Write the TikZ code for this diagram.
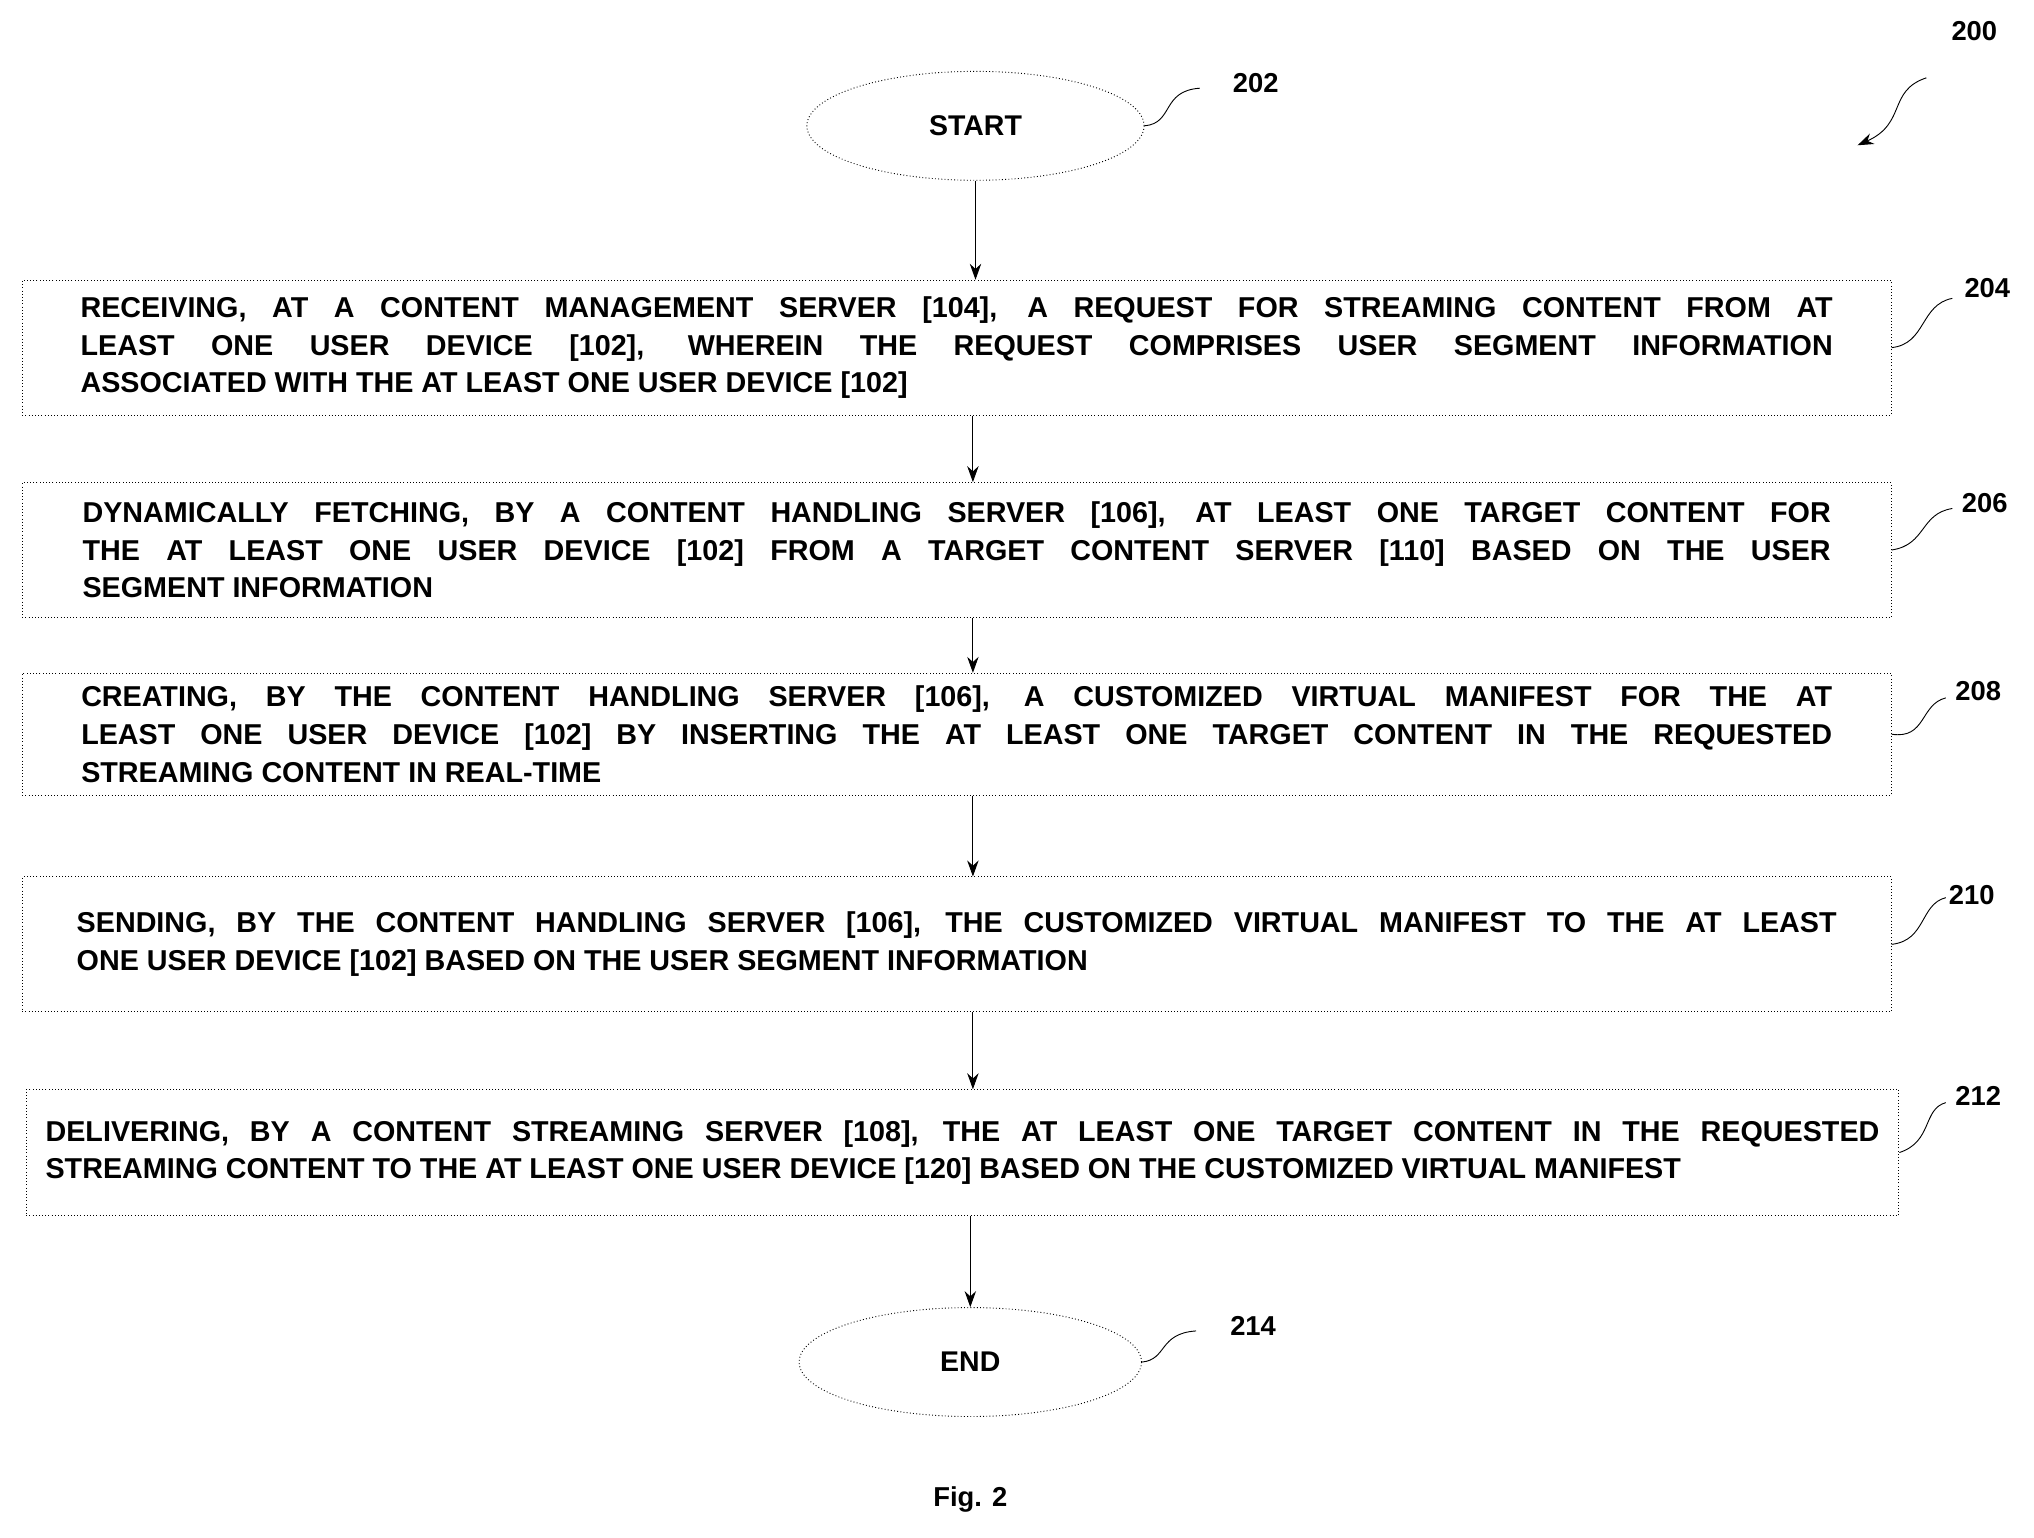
\documentclass[tikz,border=0pt]{standalone}
\usepackage{fontspec}
\setmainfont{Liberation Sans}
\usetikzlibrary{shapes.geometric,arrows.meta}
\tikzset{
  term/.style={draw,densely dotted,ellipse,minimum width=5.2cm,minimum height=1.68cm,font=\bfseries\fontsize{12.5}{14}\selectfont},
  step/.style={draw,densely dotted,rectangle,minimum height=#1,inner sep=0pt,align=justify,font=\bfseries\fontsize{12.6}{16.5}\selectfont},
  flow/.style={-{Stealth[length=7pt,width=5pt]}},
  tag/.style={font=\fontsize{12}{14}\selectfont\bfseries},
}
\begin{document}
\begin{tikzpicture}[x=0.02cm,y=-0.02cm]
  \useasboundingbox (0,0) rectangle (1568,1185);

  \node[term] (start) at (752,97) {START};
  \node[step=2.08cm,text width=27.02cm,minimum width=28.82cm] (s204) at (737.5,268) {RECEIVING, AT A CONTENT MANAGEMENT SERVER [104], A REQUEST FOR STREAMING CONTENT FROM AT\linebreak LEAST ONE USER DEVICE [102], WHEREIN THE REQUEST COMPRISES USER SEGMENT INFORMATION\linebreak ASSOCIATED WITH THE AT LEAST ONE USER DEVICE [102]};
  \node[step=2.08cm,text width=26.96cm,minimum width=28.82cm] (s206) at (737.5,424) {DYNAMICALLY FETCHING, BY A CONTENT HANDLING SERVER [106], AT LEAST ONE TARGET CONTENT FOR\linebreak THE AT LEAST ONE USER DEVICE [102] FROM A TARGET CONTENT SERVER [110] BASED ON THE USER\linebreak SEGMENT INFORMATION};
  \node[step=1.88cm,text width=27.0cm,minimum width=28.82cm] (s208) at (737.5,566) {CREATING, BY THE CONTENT HANDLING SERVER [106], A CUSTOMIZED VIRTUAL MANIFEST FOR THE AT\linebreak LEAST ONE USER DEVICE [102] BY INSERTING THE AT LEAST ONE TARGET CONTENT IN THE REQUESTED\linebreak STREAMING CONTENT IN REAL-TIME};
  \node[step=2.08cm,text width=27.14cm,minimum width=28.82cm] (s210) at (737.5,728) {SENDING, BY THE CONTENT HANDLING SERVER [106], THE CUSTOMIZED VIRTUAL MANIFEST TO THE AT LEAST\linebreak ONE USER DEVICE [102] BASED ON THE USER SEGMENT INFORMATION};
  \node[step=1.94cm,text width=28.28cm,minimum width=28.88cm] (s212) at (742,888.5) {DELIVERING, BY A CONTENT STREAMING SERVER [108], THE AT LEAST ONE TARGET CONTENT IN THE REQUESTED\linebreak STREAMING CONTENT TO THE AT LEAST ONE USER DEVICE [120] BASED ON THE CUSTOMIZED VIRTUAL MANIFEST};
  \node[term,minimum width=5.28cm] (end) at (748,1050) {END};

  \draw[flow] (start) -- (start |- s204.north);
  \draw[flow] (s204.south -| 750,0) -- (s206.north -| 750,0);
  \draw[flow] (s206.south -| 750,0) -- (s208.north -| 750,0);
  \draw[flow] (s208.south -| 750,0) -- (s210.north -| 750,0);
  \draw[flow] (s210.south -| 750,0) -- (s212.north -| 750,0);
  \draw[flow] (s212.south -| 748,0) -- (end);

  % reference numerals
  \node[tag] (n200) at (1522,24) {200};
  \node[tag] (n202) at (968,64) {202};
  \node[tag] (n204) at (1532,222) {204};
  \node[tag] (n206) at (1530,388) {206};
  \node[tag] (n208) at (1525,533) {208};
  \node[tag] (n210) at (1520,690) {210};
  \node[tag] (n212) at (1525,845) {212};
  \node[tag] (n214) at (966,1022) {214};
  \draw (start.east) .. controls (905,95) and (895,70) .. (925,68);
  \draw (s204.east) .. controls (1485,265) and (1480,235) .. (1505,230);
  \draw (s206.east) .. controls (1485,420) and (1480,396) .. (1505,392);
  \draw (s208.east) .. controls (1485,570) and (1480,543) .. (1500,538);
  \draw (s210.east) .. controls (1485,725) and (1480,697) .. (1500,692);
  \draw (s212.east) .. controls (1490,880) and (1482,855) .. (1500,850);
  \draw (end.east) .. controls (900,1048) and (893,1028) .. (922,1026);
  \draw[flow] (1485,60) .. controls (1455,70) and (1470,95) .. (1432,112);

  \node[tag] (fig) at (748,1156) {Fig. 2};
\end{tikzpicture}
\end{document}
